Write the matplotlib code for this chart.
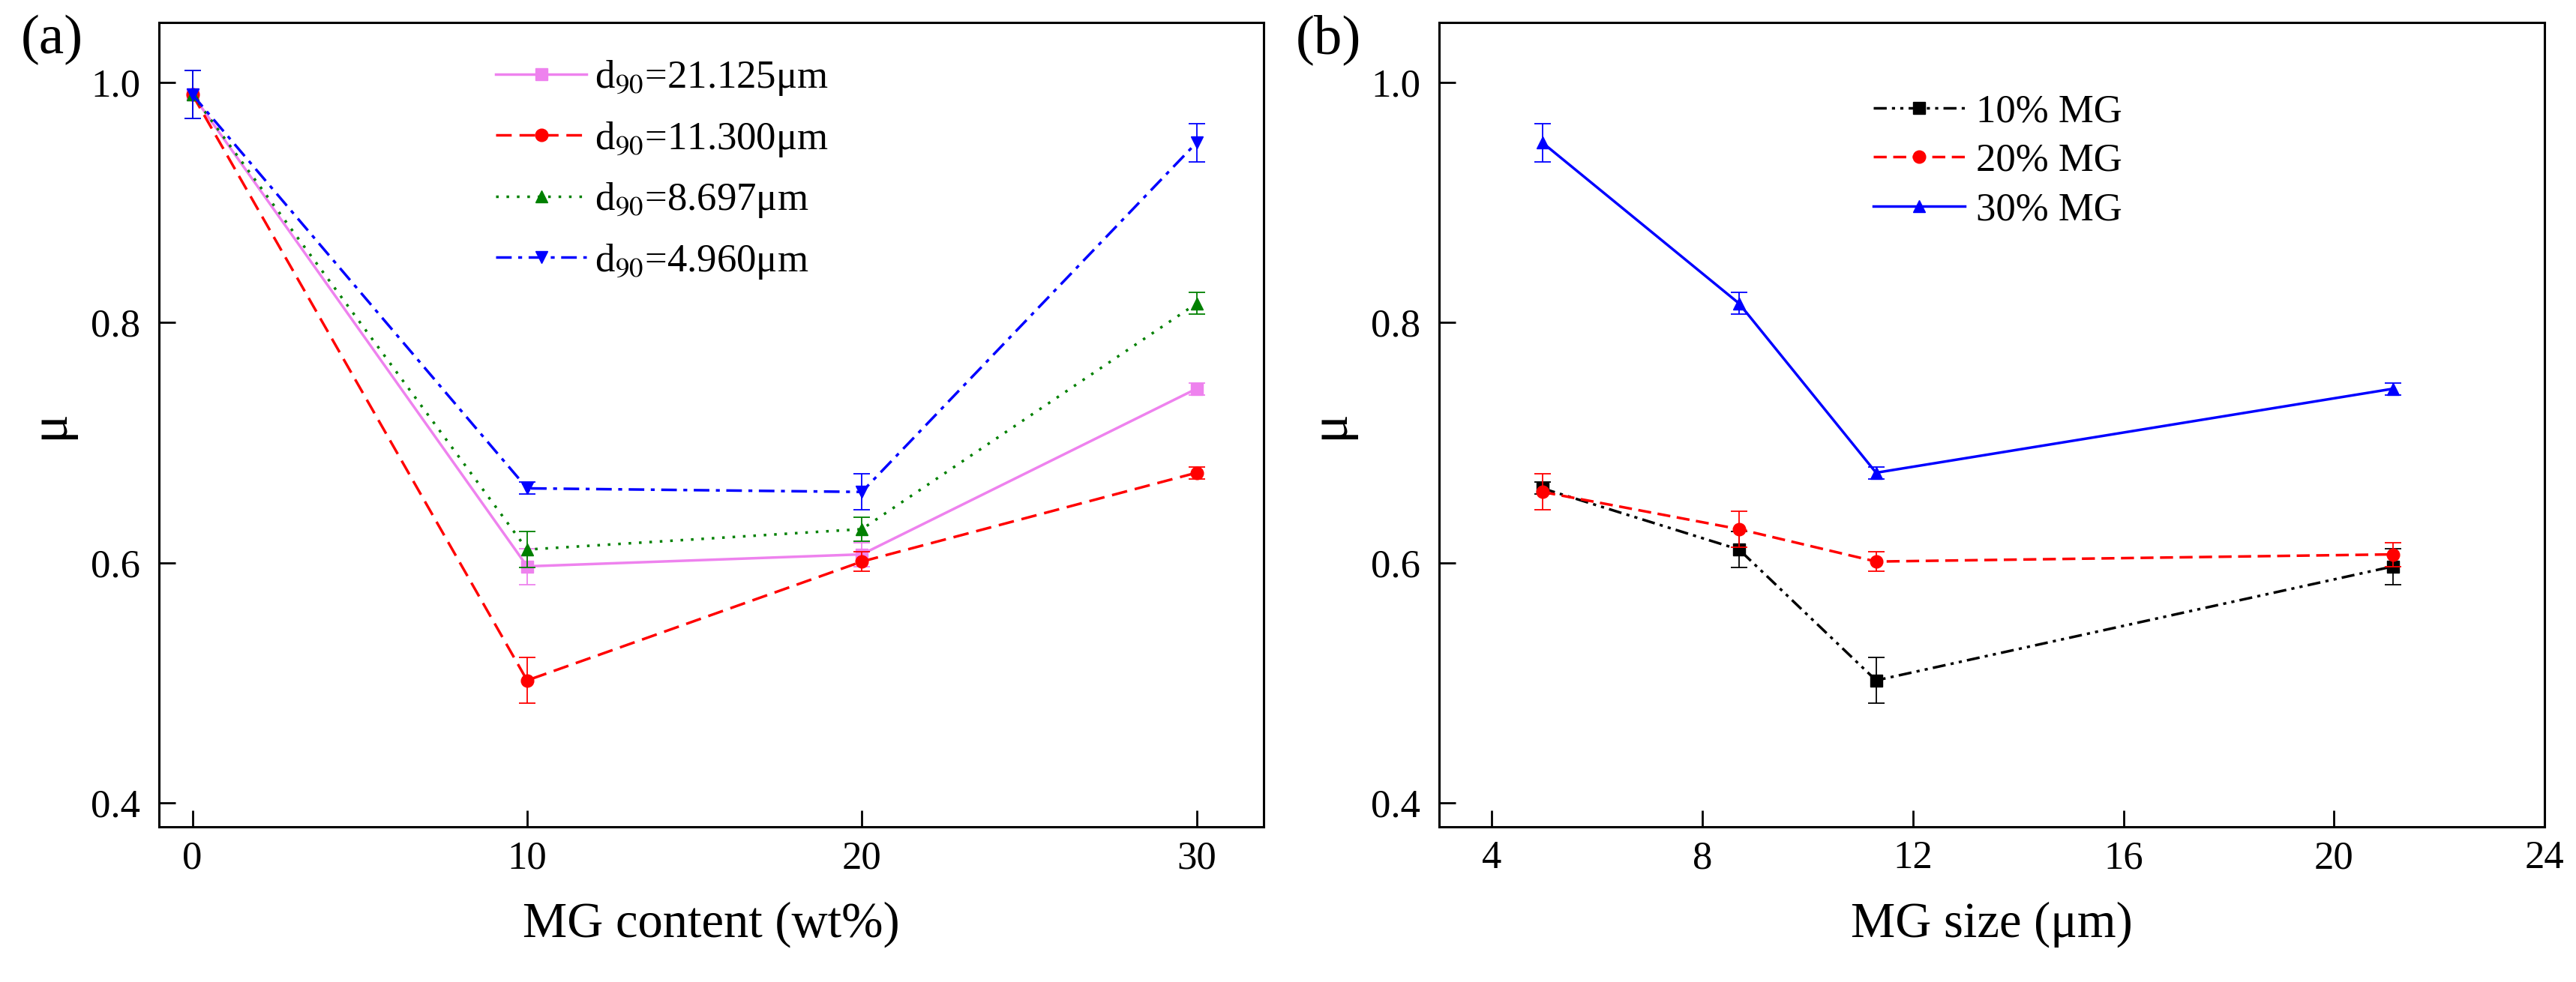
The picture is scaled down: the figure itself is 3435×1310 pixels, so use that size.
import matplotlib
matplotlib.use("Agg")
import matplotlib.pyplot as plt

plt.rcParams['font.family'] = ['Liberation Serif', 'DejaVu Serif']
plt.rcParams['mathtext.fontset'] = 'stix'

# (a) friction coefficient vs MG content for four MG sizes
content = [0, 10, 20, 30]
mu_21125 = [0.990, 0.597, 0.607, 0.745]
mu_11300 = [0.990, 0.502, 0.601, 0.675]
mu_8697 = [0.990, 0.611, 0.628, 0.816]
mu_4960 = [0.990, 0.662, 0.659, 0.950]
err_21125 = [0.020, 0.015, 0.010, 0.005]
err_11300 = [0.020, 0.019, 0.008, 0.005]
err_8697 = [0.020, 0.015, 0.010, 0.009]
err_4960 = [0.020, 0.005, 0.015, 0.016]

# (b) friction coefficient vs MG size for three contents
size = [4.960, 8.697, 11.300, 21.125]
mu_10 = [0.662, 0.611, 0.502, 0.597]
mu_20 = [0.659, 0.628, 0.601, 0.607]
mu_30 = [0.950, 0.816, 0.675, 0.745]
err_10 = [0.005, 0.015, 0.019, 0.015]
err_20 = [0.015, 0.015, 0.008, 0.010]
err_30 = [0.016, 0.009, 0.005, 0.005]

TICK = 38
LABEL = 48

fig = plt.figure(figsize=(34.35, 13.10), dpi=100)
ax1 = fig.add_axes([0.0617, 0.158, 0.4288, 0.819])
ax2 = fig.add_axes([0.5587, 0.158, 0.4291, 0.819])


def series(ax, x, y, e, color, ls, marker, label):
    # error bars first, then the line with markers (legend shows only the line)
    ax.errorbar(x, y, yerr=e, fmt='none', ecolor=color, elinewidth=1.3,
                capsize=8, capthick=1.3)
    ax.plot(x, y, color=color, linestyle=ls, linewidth=2.5,
            marker=marker, markersize=12, label=label)


series(ax1, content, mu_21125, err_21125, '#ee82ee', '-', 's', 'd$_{90}$=21.125μm')
series(ax1, content, mu_11300, err_11300, '#ff0000', (0, (6, 3)), 'o', 'd$_{90}$=11.300μm')
series(ax1, content, mu_8697, err_8697, '#008000', (0, (1, 3)), '^', 'd$_{90}$=8.697μm')
series(ax1, content, mu_4960, err_4960, '#0000ff', (0, (6, 2.5, 1.5, 2.5)), 'v', 'd$_{90}$=4.960μm')

series(ax2, size, mu_10, err_10, '#000000', (0, (5, 2, 1.2, 2, 1.2, 2)), 's', '10% MG')
series(ax2, size, mu_20, err_20, '#ff0000', (0, (5, 2.5)), 'o', '20% MG')
series(ax2, size, mu_30, err_30, '#0000ff', '-', '^', '30% MG')

ax1.set_xlim(-1, 32)
ax1.set_xticks([0, 10, 20, 30])
ax2.set_xlim(3, 24)
ax2.set_xticks([4, 8, 12, 16, 20, 24])
ax1.set_xlabel('MG content (wt%)', fontsize=LABEL, labelpad=24)
ax2.set_xlabel('MG size (μm)', fontsize=LABEL, labelpad=24)

for ax in (ax1, ax2):
    ax.set_ylim(0.38, 1.05)
    ax.set_yticks([0.4, 0.6, 0.8, 1.0])
    ax.set_yticklabels(['0.4', '0.6', '0.8', '1.0'])
    ax.set_ylabel('μ', fontsize=52, labelpad=16)
    ax.tick_params(direction='in', length=16, width=2, labelsize=TICK)
    ax.tick_params(axis='y', pad=18)
    ax.tick_params(axis='x', pad=13)
    for sp in ax.spines.values():
        sp.set_linewidth(2.2)

ax1.legend(loc='upper left', bbox_to_anchor=(0.287, 0.98), frameon=False,
           borderpad=0, fontsize=TICK, handlelength=2.3, labelspacing=0.56,
           handletextpad=0.2)
ax2.legend(loc='upper left', bbox_to_anchor=(0.375, 0.936), frameon=False,
           borderpad=0, fontsize=TICK, handlelength=2.3, labelspacing=0.33,
           handletextpad=0.3)

fig.text(0.008, 0.985, '(a)', fontsize=54, va='top')
fig.text(0.503, 0.985, '(b)', fontsize=54, va='top')

fig.savefig('out.png', dpi=100)
